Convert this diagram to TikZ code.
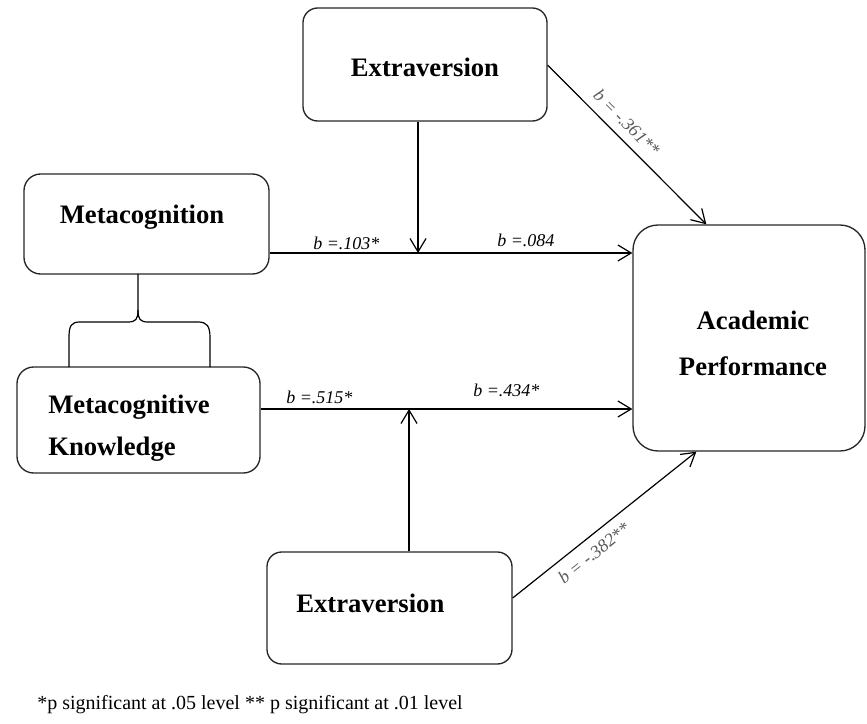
\documentclass[tikz,border=0pt]{standalone}
\usepackage{fontspec}
\setmainfont{Liberation Serif}
\usetikzlibrary{arrows.meta,calc}

\begin{document}
\begin{tikzpicture}[x=0.75pt,y=-0.75pt,
  box/.style={draw=black!85,line width=1pt,inner sep=0pt},
  boxtext/.style={font=\fontsize{20}{34}\selectfont\bfseries,inner sep=0pt},
  coef/.style={font=\fontsize{13.5}{16}\selectfont\itshape,inner sep=0pt},
  slantcoef/.style={font=\fontsize{13.5}{16}\selectfont\itshape,text=black!65,sloped},
  arr/.style={line width=0.9pt,-{Straight Barb[length=10pt,width=12pt,line width=0.9pt]}},
  link/.style={line width=0.9pt}]

\useasboundingbox (0,0) rectangle (867,724);

% boxes
\node[box,rounded corners=11pt,minimum width=183pt,minimum height=84.75pt] (ext1) at (425,64.5) {};
\node[box,rounded corners=12.5pt,minimum width=183.75pt,minimum height=75pt] (meta) at (146.5,224) {};
\node[box,rounded corners=12.5pt,minimum width=182.25pt,minimum height=79.5pt] (mk) at (138.5,420) {};
\node[box,rounded corners=18.75pt,minimum width=174pt,minimum height=169.5pt] (ap) at (749,338) {};
\node[box,rounded corners=11pt,minimum width=183.75pt,minimum height=84pt] (ext2) at (389.5,608) {};

% box texts
\node[boxtext,anchor=base] (ext1t) at (425,76) {Extraversion};
\node[boxtext,anchor=base] (metat) at (142,223) {Metacognition};
\node[boxtext,anchor=base west] (mkt1) at (48,413) {Metacognitive};
\node[boxtext,anchor=base west] (mkt2) at (48,455) {Knowledge};
\node[boxtext,anchor=base] (apt1) at (753,329) {Academic};
\node[boxtext,anchor=base] (apt2) at (753,375) {Performance};
\node[boxtext,anchor=base west] (ext2t) at (296,612) {Extraversion};

% brace joining the two metacognition boxes
\coordinate (bt) at (138,274);
\coordinate (bs) at (138,310);
\draw[link] (bt) -- (bs)
  .. controls (138,319) and (136,322) .. (128,322) -- (80,322)
  .. controls (71,322) and (69,326) .. (69,338) -- (69,367);
\draw[link] (bs)
  .. controls (138,319) and (140,322) .. (148,322) -- (198,322)
  .. controls (207,322) and (210,326) .. (210,338) -- (210,367);

% main paths
\coordinate (m1) at ([yshift=-21.75pt]meta.east);
\coordinate (k1) at ([yshift=8.25pt]mk.east);
\draw[arr] (m1) -- (m1 -| ap.west);
\draw[arr] (k1) -- (k1 -| ap.west);

% moderating paths
\coordinate (j1) at (418,253);
\coordinate (j2) at (409,409);
\draw[arr] (j1 |- ext1.south) -- (j1);
\draw[arr] (j2 |- ext2.north) -- (j2);

% direct paths from extraversion
\draw[arr] ([yshift=-0.5pt]ext1.east) -- node[slantcoef,above=3pt,pos=0.43] {b = -.361**} ([xshift=55.5pt]ap.north west);
\draw[arr] ([yshift=7.5pt]ext2.east) -- node[slantcoef,below=3pt,pos=0.39] {b = -.382**} ([xshift=48pt]ap.south west);

% coefficients
\node[coef,anchor=base west] (c1) at (313,249) {b =.103*};
\node[coef,anchor=base west] (c2) at (497,246) {b =.084};
\node[coef,anchor=base west] (c3) at (286,403) {b =.515*};
\node[coef,anchor=base west] (c4) at (473,396) {b =.434*};

% footnote
\node[anchor=base west,inner sep=0pt,font=\fontsize{15}{18}\selectfont] (note) at (37,709)
  {*p significant at .05 level ** p significant at .01 level};
\end{tikzpicture}
\end{document}
